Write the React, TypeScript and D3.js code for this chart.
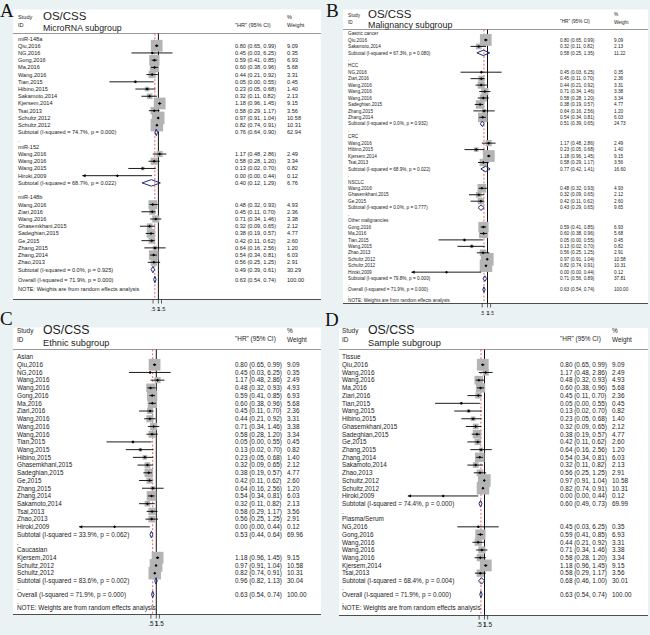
import React from "react";
import * as d3 from "d3";

// ---------- data ----------
const studyNames = [
  "Qiu,2016", "NG,2016", "Gong,2016", "Ma,2016", "Wang,2016", "Tian,2015", "Hibino,2015",
  "Sakamoto,2014", "Kjersem,2014", "Tsai,2013", "Schultz,2012", "Schultz,2012", "Wang,2016",
  "Wang,2016", "Wang,2015", "Hiroki,2009", "Wang,2016", "Ziari,2016", "Wang,2016",
  "Ghasemkhani,2015", "Sadeghian,2015", "Ge,2015", "Zhang,2015", "Zhang,2014", "Zhao,2013",
];
const studyHR = [0.80, 0.45, 0.59, 0.60, 0.44, 0.05, 0.23, 0.32, 1.18, 0.58, 0.97, 0.82, 1.17, 0.58, 0.13, 0.0048, 0.48, 0.45, 0.71, 0.32, 0.38, 0.42, 0.64, 0.54, 0.56];
const studyLo = [0.65, 0.03, 0.41, 0.38, 0.21, 0.0017, 0.05, 0.11, 0.96, 0.29, 0.91, 0.74, 0.48, 0.28, 0.02, 0.00001, 0.32, 0.11, 0.34, 0.09, 0.19, 0.11, 0.16, 0.34, 0.25];
const studyHi = [0.99, 6.25, 0.85, 0.96, 0.92, 0.55, 0.68, 0.82, 1.45, 1.17, 1.04, 0.91, 2.86, 1.20, 0.70, 0.44, 0.93, 0.70, 1.46, 0.65, 0.57, 0.62, 2.56, 0.81, 1.25];
const studyWeight = [9.09, 0.35, 6.93, 5.68, 3.31, 0.45, 1.40, 2.13, 9.15, 3.56, 10.58, 10.31, 2.49, 3.34, 0.82, 0.12, 4.93, 2.36, 3.38, 2.12, 4.77, 2.60, 1.20, 6.03, 2.91];

const overallHR = 0.63;
const overallLo = 0.54;
const overallHi = 0.74;
const overallW = 100;
const overallI2 = "71.9%";
const overallP = "0.000";

const xTicks = [0.5, 1, 1.5];
const xTickLabels = [".5", "1", "1.5"];

const groupsA = [
  { label: "miR-148a", members: [0, 1, 2, 3, 4, 5, 6, 7, 8, 9, 10, 11], hr: 0.76, lo: 0.64, hi: 0.90, w: 62.94, i2: "74.7%", p: "0.000" },
  { label: "miR-152", members: [12, 13, 14, 15], hr: 0.40, lo: 0.12, hi: 1.29, w: 6.76, i2: "68.7%", p: "0.022" },
  { label: "miR-148b", members: [16, 17, 18, 19, 20, 21, 22, 23, 24], hr: 0.49, lo: 0.39, hi: 0.61, w: 30.29, i2: "0.0%", p: "0.925" },
];
const groupsB = [
  { label: "Gastric cancer", members: [0, 7], hr: 0.58, lo: 0.25, hi: 1.35, w: 11.22, i2: "67.3%", p: "0.080" },
  { label: "HCC", members: [1, 17, 4, 18, 13, 20, 22, 23], hr: 0.51, lo: 0.39, hi: 0.65, w: 24.73, i2: "0.0%", p: "0.932" },
  { label: "CRC", members: [12, 6, 8, 9], hr: 0.77, lo: 0.42, hi: 1.41, w: 16.60, i2: "68.9%", p: "0.022" },
  { label: "NSCLC", members: [16, 19, 21], hr: 0.43, lo: 0.29, hi: 0.65, w: 9.65, i2: "0.0%", p: "0.777" },
  { label: "Other malignancies", members: [2, 3, 5, 14, 24, 10, 11, 15], hr: 0.71, lo: 0.56, hi: 0.89, w: 37.81, i2: "79.8%", p: "0.000" },
];
const groupsC = [
  { label: "Asian", members: [0, 1, 12, 16, 2, 3, 17, 4, 18, 13, 5, 14, 6, 19, 20, 21, 22, 23, 7, 9, 24, 15], hr: 0.53, lo: 0.44, hi: 0.64, w: 69.96, i2: "33.9%", p: "0.062" },
  { label: "Caucasian", members: [8, 10, 11], hr: 0.96, lo: 0.82, hi: 1.13, w: 30.04, i2: "83.6%", p: "0.002" },
];
const groupsD = [
  { label: "Tissue", members: [0, 12, 16, 3, 17, 5, 14, 6, 19, 20, 21, 22, 23, 7, 24, 10, 11, 15], hr: 0.60, lo: 0.49, hi: 0.73, w: 69.99, i2: "74.4%", p: "0.000" },
  { label: "Plasma/Serum", members: [1, 2, 4, 18, 13, 8, 9], hr: 0.68, lo: 0.46, hi: 1.00, w: 30.01, i2: "68.4%", p: "0.004" },
];

// ---------- layout ----------
const layoutA = {
  letter: "A", letterX: 0, letterY: 16.5, box: [13, 9.5, 321, 299.5], font: 5.6,
  labelX: 18, studyY: 18.5, idY: 26.5, osX: 43, osY: 19.5, osSize: 11.5,
  title: "MicroRNA subgroup", titleY: 31, titleSize: 8.8, hrX: 235, hrHeadY: 26.5,
  wX: 287, pctY: 18.5, weightY: 26.5, headLine: 33.5, row0: 38.5, step: 7.22, tail: 0.69,
  x1: 158.4, k: 7.68, diamondH: 6.5, boxK: 3.9,
};
const layoutB = {
  letter: "B", letterX: 326, letterY: 16.5, box: [343, 9.5, 648, 303.5], font: 4.7,
  labelX: 348, studyY: 16.5, idY: 23.5, osX: 368, osY: 17.5, osSize: 11.5,
  title: "Malignancy subgroup", titleY: 27.5, titleSize: 8.9, hrX: 560, hrHeadY: 23,
  wX: 614, pctY: 16, weightY: 23.5, headLine: 29.5, row0: 33.5, step: 6.45, tail: 0.85,
  x1: 487.5, k: 7.68, diamondH: 5.5, boxK: 3.9,
};
const layoutC = {
  letter: "C", letterX: 0, letterY: 325, box: [13, 327.5, 321, 614.5], font: 6.4,
  labelX: 17, studyY: 333, idY: 341.5, osX: 43, osY: 334, osSize: 12.3,
  title: "Ethnic subgroup", titleY: 345.5, titleSize: 9.2, hrX: 235, hrHeadY: 341,
  wX: 287, pctY: 333, weightY: 341.5, headLine: 349.5, row0: 357, step: 7.72, tail: 0.88,
  x1: 156.3, k: 7.8, diamondH: 6.5, boxK: 3.9,
};
const layoutD = {
  letter: "D", letterX: 325, letterY: 326, box: [339, 328, 648, 615.5], font: 6.4,
  labelX: 342, studyY: 333, idY: 341.5, osX: 368, osY: 334, osSize: 12.3,
  title: "Sample subgroup", titleY: 345.5, titleSize: 9.3, hrX: 560, hrHeadY: 341,
  wX: 612, pctY: 333, weightY: 341.5, headLine: 349.5, row0: 357, step: 7.72, tail: 0.88,
  x1: 484.5, k: 7.74, diamondH: 6.5, boxK: 3.9,
};

const SANS = "'Liberation Sans', Arial, Helvetica, sans-serif";
const SERIF = "'Liberation Serif', 'Times New Roman', serif";
const TXT = "#1c1c1c";
const NAVY = "#1f2a7a";
const BG = "#eaf2f3";
const f2 = d3.format(".2f");
const ciText = (hr: number, lo: number, hi: number) => `${f2(hr)} (${f2(lo)}, ${f2(hi)})`;

type Group = { label: string; members: number[]; hr: number; lo: number; hi: number; w: number; i2: string; p: string };

function Panel({ L, groups }: { L: any; groups: Group[] }) {
  const lnSpan = 9.9;
  const x = d3.scaleLog()
    .domain([Math.exp(-lnSpan), Math.exp(lnSpan)])
    .range([L.x1 - lnSpan * L.k, L.x1 + lnSpan * L.k]);
  const [plotL] = x.range();

  type Row = { kind: string; label?: string; idx?: number; g?: Group; slot: number };
  const rows: Row[] = [];
  groups.forEach((g) => {
    rows.push({ kind: "group", label: g.label, slot: 0 });
    g.members.forEach((m) => rows.push({ kind: "study", idx: m, slot: 0 }));
    rows.push({ kind: "sub", g, slot: 0 });
    rows.push({ kind: "blank", slot: 0 });
  });
  rows.push({ kind: "overall", slot: 0 });
  rows.push({ kind: "blank", slot: 0 });
  rows.push({ kind: "note", slot: 0 });
  let lastSub = 0;
  rows.forEach((r, i) => { if (r.kind === "sub") lastSub = i; });
  let s = 0;
  rows.forEach((r, i) => {
    if (i > 0) s += i > lastSub ? L.tail : 1;
    r.slot = s;
  });
  const y = d3.scaleLinear().domain([0, 1]).range([L.row0, L.row0 + L.step]);

  const [bx0, by0, bx1, by1] = L.box;
  const fs = L.font;
  const base = (yy: number) => yy + fs * 0.36;
  const dh = L.diamondH / 2;

  const diamond = (hr: number, lo: number, hi: number, yy: number) =>
    `M${x(lo)},${yy}L${x(hr)},${yy - dh}L${x(hi)},${yy}L${x(hr)},${yy + dh}Z`;

  return (
    <g>
      <rect x={bx0} y={by0} width={bx1 - bx0} height={by1 - by0} fill="#ffffff" />
      <text x={L.letterX} y={L.letterY} fontFamily={SERIF} fontSize={19} fill="#111">{L.letter}</text>
      {/* header */}
      <g fontFamily={SANS} fill={TXT}>
        <text x={L.labelX} y={L.studyY} fontSize={fs}>Study</text>
        <text x={L.labelX} y={L.idY} fontSize={fs}>ID</text>
        <text x={L.osX} y={L.osY} fontSize={L.osSize}>OS/CSS</text>
        <text x={L.osX} y={L.titleY} fontSize={L.titleSize}>{L.title}</text>
        <text x={L.hrX} y={L.hrHeadY} fontSize={fs}>"HR" (95% CI)</text>
        <text x={L.wX} y={L.pctY} fontSize={fs}>%</text>
        <text x={L.wX} y={L.weightY} fontSize={fs}>Weight</text>
      </g>
      <line x1={bx0} x2={bx1} y1={L.headLine} y2={L.headLine} stroke="#555" strokeWidth={0.6} />
      {/* reference lines */}
      <line x1={x(1)} x2={x(1)} y1={L.headLine} y2={by1} stroke="#111" strokeWidth={1} />
      <line x1={x(overallHR)} x2={x(overallHR)} y1={L.headLine} y2={by1} stroke="#e03a3a" strokeWidth={0.8} strokeDasharray="2,1.8" />
      {/* boxes */}
      {rows.filter((r) => r.kind === "study").map((r, i) => {
        const side = L.boxK * Math.sqrt(studyWeight[r.idx!]);
        return (
          <rect key={"b" + i} x={x(studyHR[r.idx!]) - side / 2} y={y(r.slot) - side / 2}
            width={side} height={side} fill="#b4b4b4" />
        );
      })}
      {/* CIs and points */}
      {rows.filter((r) => r.kind === "study").map((r, i) => {
        const id = r.idx!;
        const yy = y(r.slot);
        const clipped = studyLo[id] < x.domain()[0];
        const xl = clipped ? plotL : x(studyLo[id]);
        const xc = x(studyHR[id]);
        return (
          <g key={"c" + i}>
            <line x1={xl} x2={x(studyHi[id])} y1={yy} y2={yy} stroke="#000" strokeWidth={0.9} />
            {clipped && (
              <path d={`M${plotL},${yy}L${plotL + 3.2},${yy - 1.6}L${plotL + 3.2},${yy + 1.6}Z`} fill="#000" />
            )}
            <path d={`M${xc - 1.5},${yy}L${xc},${yy - 1.5}L${xc + 1.5},${yy}L${xc},${yy + 1.5}Z`} fill="#000" />
          </g>
        );
      })}
      {/* diamonds */}
      {rows.filter((r) => r.kind === "sub").map((r, i) => (
        <path key={"d" + i} d={diamond(r.g!.hr, r.g!.lo, r.g!.hi, y(r.slot))} fill="none" stroke={NAVY} strokeWidth={1} />
      ))}
      {rows.filter((r) => r.kind === "overall").map((r, i) => (
        <path key={"o" + i} d={diamond(overallHR, overallLo, overallHi, y(r.slot))} fill="none" stroke={NAVY} strokeWidth={1} />
      ))}
      {/* row texts */}
      <g fontFamily={SANS} fill={TXT} fontSize={fs} style={{ whiteSpace: "pre" }}>
        {rows.map((r, i) => {
          const yy = base(y(r.slot));
          if (r.kind === "group") return <text key={i} x={L.labelX} y={yy}>{r.label}</text>;
          if (r.kind === "blank") return <text key={i} x={L.labelX} y={yy}>.</text>;
          if (r.kind === "note") return <text key={i} x={L.labelX} y={yy}>NOTE: Weights are from random effects analysis</text>;
          if (r.kind === "study") {
            const id = r.idx!;
            return (
              <g key={i}>
                <text x={L.labelX} y={yy}>{studyNames[id]}</text>
                <text x={L.hrX} y={yy}>{ciText(studyHR[id], studyLo[id], studyHi[id])}</text>
                <text x={L.wX} y={yy}>{f2(studyWeight[id])}</text>
              </g>
            );
          }
          if (r.kind === "sub") {
            const g = r.g!;
            return (
              <g key={i}>
                <text x={L.labelX} y={yy}>{`Subtotal  (I-squared = ${g.i2}, p = ${g.p})`}</text>
                <text x={L.hrX} y={yy}>{ciText(g.hr, g.lo, g.hi)}</text>
                <text x={L.wX} y={yy}>{f2(g.w)}</text>
              </g>
            );
          }
          return (
            <g key={i}>
              <text x={L.labelX} y={yy}>{`Overall  (I-squared = ${overallI2}, p = ${overallP})`}</text>
              <text x={L.hrX} y={yy}>{ciText(overallHR, overallLo, overallHi)}</text>
              <text x={L.wX} y={yy}>{f2(overallW)}</text>
            </g>
          );
        })}
      </g>
      {/* x axis */}
      <line x1={bx0} x2={bx1} y1={by1} y2={by1} stroke="#222" strokeWidth={0.8} />
      {xTicks.map((t, i) => (
        <g key={"t" + i}>
          <line x1={x(t)} x2={x(t)} y1={by1} y2={by1 + 4} stroke="#222" strokeWidth={0.7} />
          <text x={x(t)} y={by1 + 11.5} textAnchor="middle" fontFamily={SANS} fontSize={fs} fill={TXT}>{xTickLabels[i]}</text>
        </g>
      ))}
    </g>
  );
}

export default function App() {
  return (
    <svg width={650} height={635} style={{ position: "absolute", left: 0, top: 0 }}>
      <rect x={0} y={0} width={650} height={635} fill={BG} />
      <Panel L={layoutA} groups={groupsA} />
      <Panel L={layoutB} groups={groupsB} />
      <Panel L={layoutC} groups={groupsC} />
      <Panel L={layoutD} groups={groupsD} />
    </svg>
  );
}
